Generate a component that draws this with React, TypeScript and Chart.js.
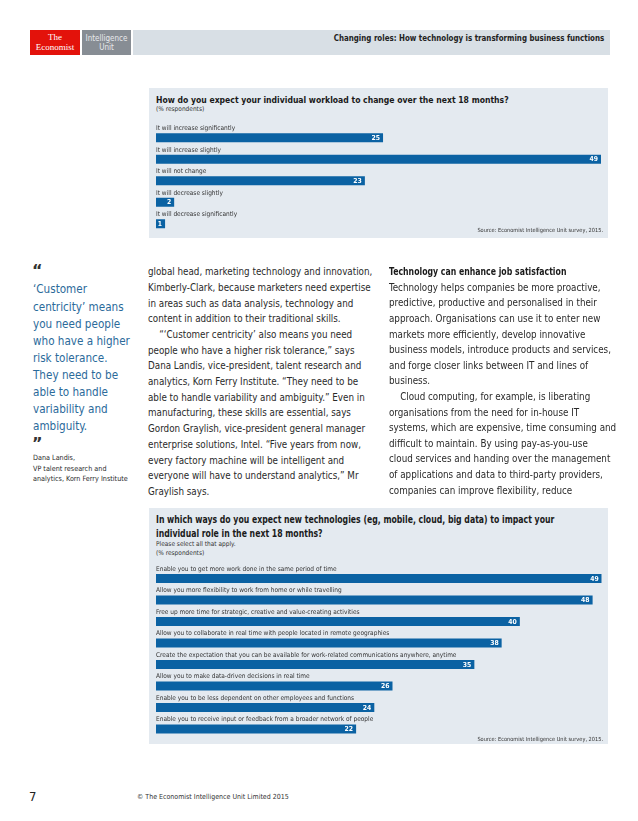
import React, { useEffect, useRef } from 'react';
import { Chart, registerables } from 'chart.js';
Chart.register(...registerables);

const FONT = "'DejaVu Sans Condensed', 'DejaVu Sans', sans-serif";
const BAR = '#0b62a3';
const BOX_BG = '#e4eaf0';
const TEXT = '#2a2a2a';
const QUOTE = '#2b6a9a';

const workloadCategories = [
  'It will increase significantly',
  'It will increase slightly',
  'It will not change',
  'It will decrease slightly',
  'It will decrease significantly',
];
const workloadValues = [25, 49, 23, 2, 1];

const impactCategories = [
  'Enable you to get more work done in the same period of time',
  'Allow you more flexibility to work from home or while travelling',
  'Free up more time for strategic, creative and value-creating activities',
  'Allow you to collaborate in real time with people located in remote geographies',
  'Create the expectation that you can be available for work-related communications anywhere, anytime',
  'Allow you to make data-driven decisions in real time',
  'Enable you to be less dependent on other employees and functions',
  'Enable you to receive input or feedback from a broader network of people',
];
const impactValues = [49, 48, 40, 38, 35, 26, 24, 22];

const middleLines = [
  'global head, marketing technology and innovation,',
  'Kimberly-Clark, because marketers need expertise',
  'in areas such as data analysis, technology and',
  'content in addition to their traditional skills.',
  '\u00a0\u00a0\u00a0\u00a0“‘Customer centricity’ also means you need',
  'people who have a higher risk tolerance,” says',
  'Dana Landis, vice-president, talent research and',
  'analytics, Korn Ferry Institute. “They need to be',
  'able to handle variability and ambiguity.” Even in',
  'manufacturing, these skills are essential, says',
  'Gordon Graylish, vice-president general manager',
  'enterprise solutions, Intel. “Five years from now,',
  'every factory machine will be intelligent and',
  'everyone will have to understand analytics,” Mr',
  'Graylish says.',
];

const rightLines = [
  'Technology helps companies be more proactive,',
  'predictive, productive and personalised in their',
  'approach. Organisations can use it to enter new',
  'markets more efficiently, develop innovative',
  'business models, introduce products and services,',
  'and forge closer links between IT and lines of',
  'business.',
  '\u00a0\u00a0\u00a0\u00a0Cloud computing, for example, is liberating',
  'organisations from the need for in-house IT',
  'systems, which are expensive, time consuming and',
  'difficult to maintain. By using pay-as-you-use',
  'cloud services and handing over the management',
  'of applications and data to third-party providers,',
  'companies can improve flexibility, reduce',
];

const quoteLines = [
  '‘Customer',
  'centricity’ means',
  'you need people',
  'who have a higher',
  'risk tolerance.',
  'They need to be',
  'able to handle',
  'variability and',
  'ambiguity.',
];

const labelPlugin = {
  id: 'barLabels',
  afterDatasetsDraw(chart: any) {
    const ctx = chart.ctx;
    const meta = chart.getDatasetMeta(0);
    const labels = chart.data.labels;
    const values = chart.data.datasets[0].data;
    meta.data.forEach((bar: any, i: number) => {
      const p = bar.getProps(['x', 'y', 'base', 'height'], true);
      ctx.save();
      ctx.font = `6.5px ${FONT}`;
      ctx.fillStyle = '#333';
      ctx.textAlign = 'left';
      ctx.textBaseline = 'alphabetic';
      ctx.fillText(String(labels[i]), p.base, p.y - p.height / 2 - 3);
      ctx.font = `bold 6.8px ${FONT}`;
      ctx.fillStyle = '#ffffff';
      ctx.textAlign = 'right';
      ctx.textBaseline = 'middle';
      ctx.fillText(String(values[i]), p.x - 3, p.y + 0.5);
      ctx.restore();
    });
  },
};

type BarProps = {
  labels: string[];
  values: number[];
  left: number;
  top: number;
  width: number;
  height: number;
  padding: { left: number; right: number; top: number; bottom: number };
  max: number;
};

function BarChart({ labels, values, left, top, width, height, padding, max }: BarProps) {
  const ref = useRef<HTMLCanvasElement>(null);
  useEffect(() => {
    const chart = new Chart(ref.current as HTMLCanvasElement, {
      type: 'bar',
      data: {
        labels,
        datasets: [
          {
            data: values,
            backgroundColor: BAR,
            borderWidth: 0,
            barPercentage: 0.42,
            categoryPercentage: 1,
          },
        ],
      },
      options: {
        indexAxis: 'y',
        animation: false,
        responsive: false,
        maintainAspectRatio: false,
        layout: { padding },
        plugins: { legend: { display: false }, tooltip: { enabled: false } },
        scales: {
          x: { display: false, min: 0, max },
          y: { display: false },
        },
      },
      plugins: [labelPlugin],
    } as any);
    return () => chart.destroy();
  }, []);
  return (
    <canvas
      ref={ref}
      width={width}
      height={height}
      style={{ position: 'absolute', left, top, width, height }}
    />
  );
}

function Lines({
  lines,
  left,
  firstCenter,
  lineHeight,
  style,
}: {
  lines: string[];
  left: number;
  firstCenter: number;
  lineHeight: number;
  style?: React.CSSProperties;
}) {
  return (
    <div
      style={{
        position: 'absolute',
        left,
        top: firstCenter - lineHeight / 2,
        lineHeight: `${lineHeight}px`,
        whiteSpace: 'pre',
        fontFamily: FONT,
        color: TEXT,
        ...style,
      }}
    >
      {lines.map((l, i) => (
        <div key={i}>{l}</div>
      ))}
    </div>
  );
}

const abs = (s: React.CSSProperties): React.CSSProperties => ({ position: 'absolute', ...s });

export default function App() {
  return (
    <div
      style={{
        position: 'absolute',
        left: 0,
        top: 0,
        width: 638,
        height: 821,
        background: '#ffffff',
        overflow: 'hidden',
        fontFamily: FONT,
      }}
    >
      {/* Header */}
      <div style={abs({ left: 30, top: 30, width: 50, height: 25, background: '#e3120b' })}>
        <div
          style={{
            color: '#fff',
            fontFamily: "'Liberation Serif', 'DejaVu Serif', serif",
            fontSize: 9,
            lineHeight: '9.5px',
            textAlign: 'center',
            paddingTop: 3,
          }}
        >
          The
          <br />
          Economist
        </div>
      </div>
      <div style={abs({ left: 82, top: 30, width: 49, height: 25, background: '#878d94' })}>
        <div
          style={{
            color: '#e8eaec',
            fontSize: 8,
            lineHeight: '9px',
            textAlign: 'center',
            paddingTop: 3.5,
          }}
        >
          Intelligence
          <br />
          Unit
        </div>
      </div>
      <div style={abs({ left: 133, top: 30, width: 477, height: 25, background: '#d8dfe5' })} />
      <div
        style={abs({
          right: 638 - 604,
          top: 32,
          fontSize: 8.8,
          lineHeight: '12px',
          fontWeight: 'bold',
          color: '#222',
          whiteSpace: 'nowrap',
          transform: 'scaleX(0.895)',
          transformOrigin: 'right center',
        })}
      >
        Changing roles: How technology is transforming business functions
      </div>

      {/* Chart 1 box */}
      <div style={abs({ left: 149, top: 88, width: 459, height: 150, background: BOX_BG })} />
      <div
        style={abs({
          left: 156,
          top: 94,
          fontSize: 9.5,
          lineHeight: '12px',
          fontWeight: 'bold',
          color: '#1a1a1a',
          whiteSpace: 'nowrap',
          transform: 'scaleX(0.9)',
          transformOrigin: 'left center',
        })}
      >
        How do you expect your individual workload to change over the next 18 months?
      </div>
      <div style={abs({ left: 156, top: 105, fontSize: 6.5, lineHeight: '8px', color: '#333' })}>
        (% respondents)
      </div>
      <BarChart
        labels={workloadCategories}
        values={workloadValues}
        left={149}
        top={115}
        width={459}
        height={123}
        padding={{ left: 7, right: 7, top: 12, bottom: 3.6 }}
        max={49}
      />
      <div
        style={abs({
          right: 638 - 603,
          top: 226,
          fontSize: 5.6,
          lineHeight: '8px',
          color: '#333',
          whiteSpace: 'nowrap',
        })}
      >
        Source: Economist Intelligence Unit survey, 2015.
      </div>

      {/* Quote column */}
      <div
        style={abs({
          left: 32,
          top: 263,
          fontSize: 16,
          lineHeight: '16px',
          fontWeight: 'bold',
          color: '#333',
          fontFamily: "'DejaVu Sans', sans-serif",
        })}
      >
        “
      </div>
      <Lines
        lines={quoteLines}
        left={33}
        firstCenter={290}
        lineHeight={17.1}
        style={{ fontSize: 11.6, color: QUOTE }}
      />
      <div
        style={abs({
          left: 32,
          top: 436,
          fontSize: 16,
          lineHeight: '16px',
          fontWeight: 'bold',
          color: '#333',
          fontFamily: "'DejaVu Sans', sans-serif",
        })}
      >
        ”
      </div>
      <Lines
        lines={['Dana Landis,', 'VP talent research and', 'analytics, Korn Ferry Institute']}
        left={33}
        firstCenter={458.5}
        lineHeight={10.5}
        style={{ fontSize: 7.2 }}
      />

      {/* Middle column */}
      <Lines lines={middleLines} left={148} firstCenter={272} lineHeight={15.7} style={{ fontSize: 9.75 }} />

      {/* Right column */}
      <div
        style={abs({
          left: 389,
          top: 272 - 7.8,
          fontSize: 10,
          lineHeight: '15.6px',
          fontWeight: 'bold',
          color: '#1a1a1a',
          whiteSpace: 'nowrap',
          transform: 'scaleX(0.865)',
          transformOrigin: 'left center',
        })}
      >
        Technology can enhance job satisfaction
      </div>
      <Lines lines={rightLines} left={389} firstCenter={287.6} lineHeight={15.6} style={{ fontSize: 9.75 }} />

      {/* Chart 2 box */}
      <div style={abs({ left: 149, top: 508, width: 459, height: 236, background: BOX_BG })} />
      <div
        style={abs({
          left: 156,
          top: 513,
          fontSize: 9.8,
          lineHeight: '14px',
          fontWeight: 'bold',
          color: '#1a1a1a',
          whiteSpace: 'nowrap',
          transform: 'scaleX(0.88)',
          transformOrigin: 'left center',
        })}
      >
        In which ways do you expect new technologies (eg, mobile, cloud, big data) to impact your
        <br />
        individual role in the next 18 months?
      </div>
      <div style={abs({ left: 156, top: 540, fontSize: 6.5, lineHeight: '8.7px', color: '#333' })}>
        Please select all that apply.
        <br />
        (% respondents)
      </div>
      <BarChart
        labels={impactCategories}
        values={impactValues}
        left={149}
        top={558}
        width={459}
        height={186}
        padding={{ left: 7, right: 6.3, top: 9.75, bottom: 4.25 }}
        max={49}
      />
      <div
        style={abs({
          right: 638 - 603,
          top: 735,
          fontSize: 5.6,
          lineHeight: '8px',
          color: '#333',
          whiteSpace: 'nowrap',
        })}
      >
        Source: Economist Intelligence Unit survey, 2015.
      </div>

      {/* Footer */}
      <div style={abs({ left: 29, top: 789, fontSize: 13, lineHeight: '16px', color: '#222' })}>7</div>
      <div style={abs({ left: 137, top: 792, fontSize: 7, lineHeight: '10px', color: '#333', whiteSpace: 'nowrap' })}>
        © The Economist Intelligence Unit Limited 2015
      </div>
    </div>
  );
}
